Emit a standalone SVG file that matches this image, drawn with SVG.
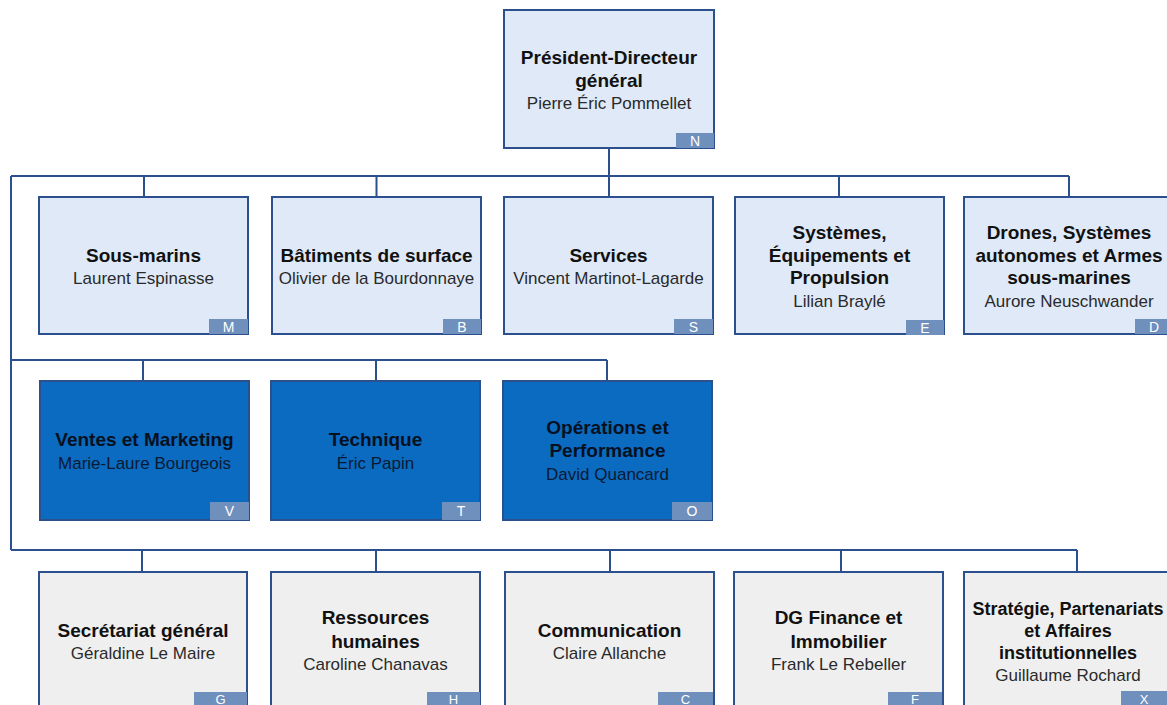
<svg xmlns="http://www.w3.org/2000/svg" width="1167" height="705" viewBox="0 0 1167 705">
<style>
  text { font-family: "Liberation Sans", Arial, sans-serif; text-anchor: middle; }
  .box { stroke: #2c4f8e; stroke-width: 2; }
  .lt { fill: #dfe9f8; }
  .dk { fill: #0a6bc1; }
  .gr { fill: #efefef; }
  .t { font-size: 19px; font-weight: bold; fill: #111; }
  .t18 { font-size: 18px; font-weight: bold; fill: #111; }
  .n { font-size: 17px; fill: #2a2a2a; }
  .dk-t { font-size: 19px; font-weight: bold; fill: #06101e; }
  .dk-n { font-size: 17px; fill: #0b1a33; }
  .bd { fill: #6f8fbd; }
  .bt { font-size: 14px; fill: #ffffff; }
  .bt3 { font-size: 13px; fill: #ffffff; }
  .ln { stroke: #2c4f8e; stroke-width: 2; fill: none; }
</style>

<g id="connectors">
  <path class="ln" d="M609,148 V197"/>
  <path class="ln" d="M11,176 H1069"/>
  <path class="ln" d="M144,176 V197 M376.5,176 V197 M839,176 V197 M1069,176 V197"/>
  <path class="ln" d="M11,176 V550"/>
  <path class="ln" d="M11,360 H607"/>
  <path class="ln" d="M143,360 V381 M376,360 V381 M607,360 V381"/>
  <path class="ln" d="M11,550 H1077"/>
  <path class="ln" d="M142,550 V572 M376,550 V572 M610,550 V572 M841,550 V572 M1077,550 V572"/>
</g>

<g id="node-N">
  <rect class="box lt" x="504" y="10" width="210" height="138"/>
  <rect class="bd" x="676" y="133" width="38" height="15"/>
  <text class="bt" x="695" y="146">N</text>
  <text class="t" x="609" y="64">Président-Directeur</text>
  <text class="t" x="609" y="87">général</text>
  <text class="n" x="609" y="109">Pierre Éric Pommellet</text>
</g>

<g id="node-M">
  <rect class="box lt" x="39" y="197" width="209" height="137"/>
  <rect class="bd" x="209" y="319" width="39" height="15"/>
  <text class="bt" x="228.5" y="332">M</text>
  <text class="t" x="143.5" y="262">Sous-marins</text>
  <text class="n" x="143.5" y="284">Laurent Espinasse</text>
</g>

<g id="node-B">
  <rect class="box lt" x="272" y="197" width="209" height="137"/>
  <rect class="bd" x="443" y="319" width="38" height="15"/>
  <text class="bt" x="462" y="332">B</text>
  <text class="t" x="376.5" y="262">Bâtiments de surface</text>
  <text class="n" x="376.5" y="284">Olivier de la Bourdonnaye</text>
</g>

<g id="node-S">
  <rect class="box lt" x="504" y="197" width="209" height="137"/>
  <rect class="bd" x="674" y="319" width="39" height="15"/>
  <text class="bt" x="693.5" y="332">S</text>
  <text class="t" x="608.5" y="262">Services</text>
  <text class="n" x="608.5" y="284">Vincent Martinot-Lagarde</text>
</g>

<g id="node-E">
  <rect class="box lt" x="735" y="197" width="209" height="137"/>
  <rect class="bd" x="906" y="320" width="38" height="15"/>
  <text class="bt" x="925" y="333">E</text>
  <text class="t" x="839.5" y="238.5">Systèmes,</text>
  <text class="t" x="839.5" y="261.5">Équipements et</text>
  <text class="t" x="839.5" y="284">Propulsion</text>
  <text class="n" x="839.5" y="306.5">Lilian Braylé</text>
</g>

<g id="node-D">
  <rect class="box lt" x="964" y="197" width="210" height="137"/>
  <rect class="bd" x="1135" y="319" width="39" height="15"/>
  <text class="bt" x="1154" y="332">D</text>
  <text class="t" x="1069" y="238.5">Drones, Systèmes</text>
  <text class="t" x="1069" y="261.5">autonomes et Armes</text>
  <text class="t" x="1069" y="284">sous-marines</text>
  <text class="n" x="1069" y="306.5">Aurore Neuschwander</text>
</g>

<g id="node-V">
  <rect class="box dk" x="40" y="381" width="209" height="139"/>
  <rect class="bd" x="210" y="502" width="39" height="18"/>
  <text class="bt" x="229.5" y="516">V</text>
  <text class="dk-t" x="144.5" y="446">Ventes et Marketing</text>
  <text class="dk-n" x="144.5" y="468.5">Marie-Laure Bourgeois</text>
</g>

<g id="node-T">
  <rect class="box dk" x="271" y="381" width="209" height="139"/>
  <rect class="bd" x="442" y="502" width="38" height="18"/>
  <text class="bt" x="461" y="516">T</text>
  <text class="dk-t" x="375.5" y="446">Technique</text>
  <text class="dk-n" x="375.5" y="468.5">Éric Papin</text>
</g>

<g id="node-O">
  <rect class="box dk" x="503" y="381" width="209" height="139"/>
  <rect class="bd" x="672" y="502" width="40" height="18"/>
  <text class="bt" x="692" y="516">O</text>
  <text class="dk-t" x="607.5" y="434">Opérations et</text>
  <text class="dk-t" x="607.5" y="457">Performance</text>
  <text class="dk-n" x="607.5" y="479.5">David Quancard</text>
</g>

<g id="node-G">
  <rect class="box gr" x="39" y="572" width="208" height="137"/>
  <rect class="bd" x="194" y="692" width="53" height="17"/>
  <text class="bt3" x="220.5" y="704">G</text>
  <text class="t" x="143" y="637">Secrétariat général</text>
  <text class="n" x="143" y="659">Géraldine Le Maire</text>
</g>

<g id="node-H">
  <rect class="box gr" x="271" y="572" width="209" height="137"/>
  <rect class="bd" x="427" y="692" width="53" height="17"/>
  <text class="bt3" x="453.5" y="704">H</text>
  <text class="t" x="375.5" y="624">Ressources</text>
  <text class="t" x="375.5" y="647.5">humaines</text>
  <text class="n" x="375.5" y="670">Caroline Chanavas</text>
</g>

<g id="node-C">
  <rect class="box gr" x="505" y="572" width="209" height="137"/>
  <rect class="bd" x="658" y="692" width="55" height="17"/>
  <text class="bt3" x="685.5" y="704">C</text>
  <text class="t" x="609.5" y="637">Communication</text>
  <text class="n" x="609.5" y="659">Claire Allanche</text>
</g>

<g id="node-F">
  <rect class="box gr" x="734" y="572" width="209" height="137"/>
  <rect class="bd" x="888" y="692" width="54" height="17"/>
  <text class="bt3" x="915" y="704">F</text>
  <text class="t" x="838.5" y="624">DG Finance et</text>
  <text class="t" x="838.5" y="648">Immobilier</text>
  <text class="n" x="838.5" y="670">Frank Le Rebeller</text>
</g>

<g id="node-X">
  <rect class="box gr" x="964" y="572" width="212" height="137"/>
  <rect class="bd" x="1121" y="691" width="55" height="18"/>
  <text class="bt3" x="1144" y="704">X</text>
  <text class="t18" x="1068" y="615">Stratégie, Partenariats</text>
  <text class="t18" x="1068" y="637">et Affaires</text>
  <text class="t18" x="1068" y="658.5">institutionnelles</text>
  <text class="n" x="1068" y="680.5">Guillaume Rochard</text>
</g>
</svg>
